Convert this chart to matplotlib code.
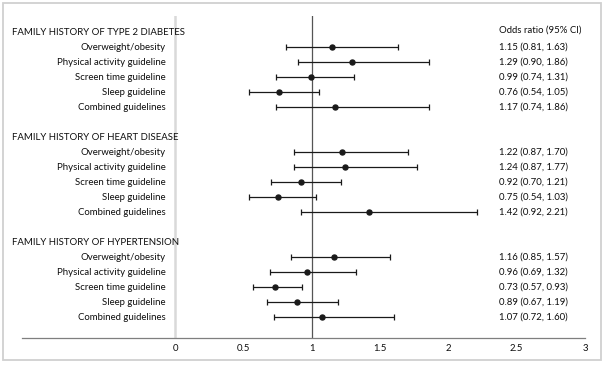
import matplotlib.pyplot as plt
import matplotlib.transforms as mtransforms
from matplotlib.patches import Rectangle

# data
groups = ["FAMILY HISTORY OF TYPE 2 DIABETES",
          "FAMILY HISTORY OF HEART DISEASE",
          "FAMILY HISTORY OF HYPERTENSION"]
outcomes = ["Overweight/obesity", "Physical activity guideline",
            "Screen time guideline", "Sleep guideline", "Combined guidelines"]

or_t2d = [1.15, 1.29, 0.99, 0.76, 1.17]
lo_t2d = [0.81, 0.90, 0.74, 0.54, 0.74]
hi_t2d = [1.63, 1.86, 1.31, 1.05, 1.86]

or_hd = [1.22, 1.24, 0.92, 0.75, 1.42]
lo_hd = [0.87, 0.87, 0.70, 0.54, 0.92]
hi_hd = [1.70, 1.77, 1.21, 1.03, 2.21]

or_ht = [1.16, 0.96, 0.73, 0.89, 1.07]
lo_ht = [0.85, 0.69, 0.57, 0.67, 0.72]
hi_ht = [1.57, 1.32, 0.93, 1.19, 1.60]

xticks = [0, 0.5, 1, 1.5, 2, 2.5, 3]
xticklabels = ["0", "0.5", "1", "1.5", "2", "2.5", "3"]

plt.rcParams['font.family'] = ['Lato', 'DejaVu Sans']
fs = 6.9
dark = '#1a1a1a'
txt = '#0d0d0d'

fig = plt.figure(figsize=(6.05, 3.65), dpi=100)
fig.patches.append(Rectangle((3 / 605, 5 / 365), 598 / 605, 357 / 365,
                             transform=fig.transFigure, fill=False,
                             edgecolor='#d0d0d0', linewidth=1.3))

ax = fig.add_axes([22 / 605, 1 - 338 / 365, 563 / 605, 322 / 365])
ax.set_xlim(-1.124, 3.0)
ax.set_ylim(20.4, -1.07)

for s in ['top', 'right', 'left']:
    ax.spines[s].set_visible(False)
ax.spines['bottom'].set_color('#7f7f7f')
ax.spines['bottom'].set_linewidth(0.9)
ax.set_yticks([])
ax.set_xticks(xticks)
ax.set_xticklabels(xticklabels, fontsize=fs, color=txt)
ax.tick_params(axis='x', length=0, pad=4)

ax.axvline(0, color='#d9d9d9', lw=1.8, zorder=1)
ax.axvline(1, color='#555555', lw=0.9, zorder=1)

# x in figure fraction, y in data rows
hdr_tr = mtransforms.blended_transform_factory(fig.transFigure, ax.transData)
all_data = [(or_t2d, lo_t2d, hi_t2d), (or_hd, lo_hd, hi_hd), (or_ht, lo_ht, hi_ht)]

ax.text(499 / 605, -0.1, "Odds ratio (95% CI)", transform=hdr_tr,
        fontsize=fs, va='center', ha='left', color=txt)

for g, (name, (orv, lo, hi)) in enumerate(zip(groups, all_data)):
    base = g * 7
    ax.text(12 / 605, base, name, transform=hdr_tr, fontsize=fs,
            va='center', ha='left', color=txt)
    for k in range(len(outcomes)):
        y = base + 1 + k
        ax.text(166 / 605, y, outcomes[k], transform=hdr_tr, fontsize=fs,
                va='center', ha='right', color=txt)
        ax.errorbar(orv[k], y, xerr=[[orv[k] - lo[k]], [hi[k] - orv[k]]],
                    fmt='o', color=dark, ecolor=dark, markersize=3.6,
                    elinewidth=0.9, capsize=2.4, capthick=0.9, zorder=3)
        ax.text(499 / 605, y, f"{orv[k]:.2f} ({lo[k]:.2f}, {hi[k]:.2f})",
                transform=hdr_tr, fontsize=fs, va='center', ha='left',
                color=txt)

fig.savefig('out.png', dpi=100)
